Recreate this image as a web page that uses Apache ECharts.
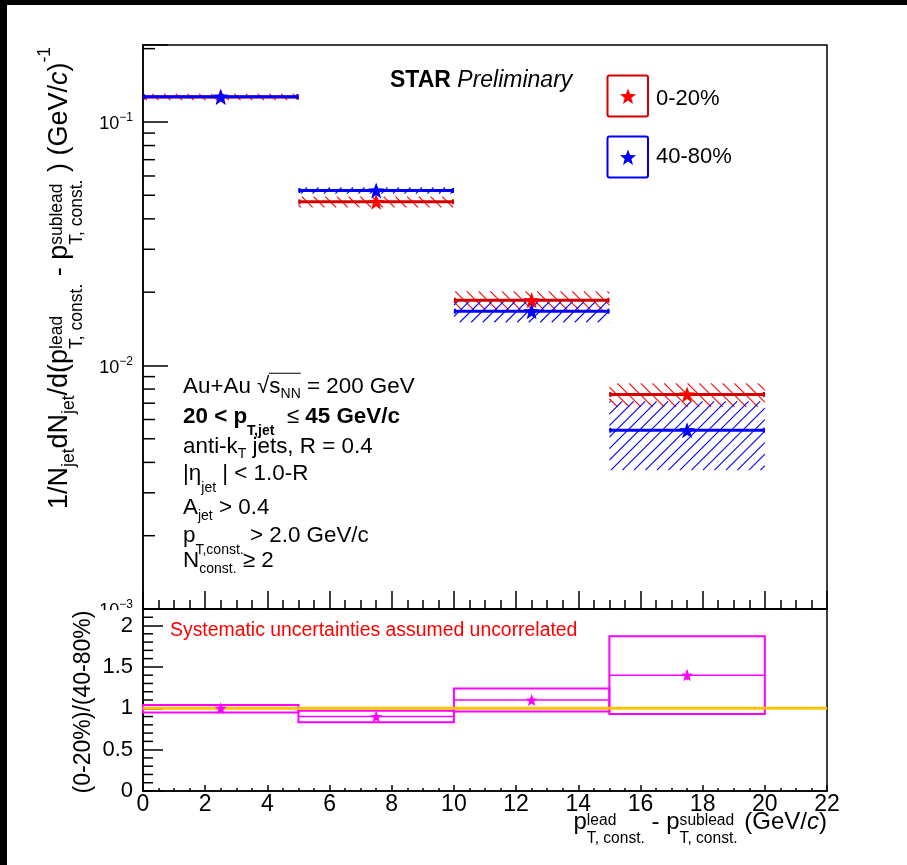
<!DOCTYPE html>
<html><head><meta charset="utf-8">
<script src="https://cdn.jsdelivr.net/npm/echarts@6/dist/echarts.min.js"></script>
<style>html,body{margin:0;padding:0;background:#fff}#c{width:907px;height:865px}</style>
</head><body><div id="c"></div>
<script>
// ---------------- data ----------------
const binLow = [0, 5, 10, 15];
const binHigh = [5, 10, 15, 20];
const binCenter = [2.5, 7.5, 12.5, 17.5];
// 0-20% centrality
const central = [0.1266, 0.0470, 0.01853, 0.0076];
const centralSys = [0.0037, 0.0024, 0.0016, 0.00084];
// 40-80% centrality
const peripheral = [0.1270, 0.0523, 0.0167, 0.00542];
const peripheralSys = [0.0012, 0.0015, 0.00165, 0.0017];
// ratio (0-20%)/(40-80%)
const ratio = [1.00, 0.90, 1.10, 1.40];
const ratioSysLow = [0.95, 0.83, 0.96, 0.93];
const ratioSysHigh = [1.04, 0.97, 1.24, 1.87];
const ratioStat = [0.04, 0.03, 0.04, 0.06];
const unityX = [0, 22];
const unityY = [1, 1];
// axis ticks
const logDecades = [0.001, 0.01, 0.1];
const logMinorMult = [2, 3, 4, 5, 6, 7, 8, 9];
const ratioTickLabels = ['0', '0.5', '1', '1.5', '2'];
const ratioMinorTicks = [0.1,0.2,0.3,0.4,0.6,0.7,0.8,0.9,1.1,1.2,1.3,1.4,1.6,1.7,1.8,1.9,2.1];

// ---------------- styling ----------------
const FF = '"Liberation Sans", Arial, Helvetica, sans-serif';
const C_RED = '#ff0000', C_REDLINE = '#d40000', C_BLUE = '#0000ff', C_MAG = '#ff00ff', C_ORANGE = '#ffc400';
const Y_MAX = 0.207, Y_MIN = 0.001;
const logMinorTicks = [];
logDecades.forEach(d => logMinorMult.forEach(m => { const v = d * m; if (v < Y_MAX) logMinorTicks.push(v); }));

function starPath() {
  let d = '';
  for (let i = 0; i < 10; i++) {
    const r = i % 2 === 0 ? 50 : 21;
    const a = -Math.PI / 2 + i * Math.PI / 5;
    d += (i ? 'L' : 'M') + (50 + r * Math.cos(a)).toFixed(2) + ' ' + (50 + r * Math.sin(a)).toFixed(2);
  }
  return d + 'Z';
}
const STAR = 'path://' + starPath();
function starPoints(cx, cy, R) {
  const pts = [];
  for (let i = 0; i < 10; i++) {
    const r = i % 2 === 0 ? R : R * 0.42;
    const a = -Math.PI / 2 + i * Math.PI / 5;
    pts.push([cx + r * Math.cos(a), cy + r * Math.sin(a)]);
  }
  return pts;
}

// ---------------- text helpers ----------------
const mctx = document.createElement('canvas').getContext('2d');
function measure(t, f) {
  mctx.font = (f.style || 'normal') + ' ' + (f.weight || 'normal') + ' ' + f.size + 'px ' + FF;
  return mctx.measureText(t).width;
}
function mathText(segs, main, sub) {
  let x = 0; const items = []; let ovStart = null; const lines = [];
  for (const s0 of segs) {
    const s = typeof s0 === 'string' ? { t: s0 } : s0;
    if (s.ovStart) { ovStart = x; continue; }
    if (s.ovEnd) { lines.push([ovStart, x]); continue; }
    if (s.stack) {
      const f = { size: sub, weight: s.weight };
      const w1 = measure(s.stack[0], f), w2 = measure(s.stack[1], f);
      items.push({ t: s.stack[0], x, dy: s.up !== undefined ? s.up : -0.21 * main, f });
      items.push({ t: s.stack[1], x, dy: s.dn !== undefined ? s.dn : 0.54 * main, f });
      x += Math.max(w1, w2);
    } else {
      const size = (s.sub || s.sup) ? sub : main;
      const f = { size, weight: s.weight, style: s.style };
      const dy = s.dy !== undefined ? s.dy : (s.sub ? 0.25 * main : s.sup ? -0.45 * main : 0);
      items.push({ t: s.t, x, dy, f });
      x += measure(s.t, f);
    }
  }
  return { width: x, items, lines };
}
function mathGraphic(segs, opt) {
  const m = mathText(segs, opt.main, opt.sub);
  const off = opt.align === 'right' ? -m.width : opt.align === 'center' ? -m.width / 2 : 0;
  const color = opt.color || '#000';
  const z = opt.z || 50;
  const children = m.items.map(it => ({
    type: 'text', z, x: it.x + off, y: it.dy - 0.35 * it.f.size,
    style: { text: it.t, fontSize: it.f.size, fontFamily: FF, fontWeight: it.f.weight || 'normal',
      fontStyle: it.f.style || 'normal', fill: color, align: 'left', verticalAlign: 'middle' }
  }));
  m.lines.forEach(l => children.push({ type: 'line', z,
    shape: { x1: l[0] + off - 0.5, y1: -opt.main * 0.97, x2: l[1] + off, y2: -opt.main * 0.97 },
    style: { stroke: color, lineWidth: 1.2 } }));
  return { type: 'group', x: opt.x, y: opt.y, rotation: opt.rotation || 0, z, silent: true, children };
}

// ---------------- render helpers ----------------
function hatchRender(dir, color, spacing) {
  return function (params, api) {
    const a = api.coord([api.value(0), api.value(3)]);
    const b = api.coord([api.value(1), api.value(2)]);
    const X0 = Math.min(a[0], b[0]), X1 = Math.max(a[0], b[0]);
    const Y0 = Math.min(a[1], b[1]), Y1 = Math.max(a[1], b[1]);
    const ch = [];
    if (dir > 0) { // '/'
      for (let c = Math.ceil((X0 + Y0) / spacing) * spacing; c <= X1 + Y1; c += spacing) {
        const xa = Math.max(X0, c - Y1), xb = Math.min(X1, c - Y0);
        if (xb > xa) ch.push({ type: 'line', shape: { x1: xa, y1: c - xa, x2: xb, y2: c - xb }, style: { stroke: color, lineWidth: 1.1 } });
      }
    } else { // '\'
      for (let c = Math.ceil((X0 - Y1) / spacing) * spacing; c <= X1 - Y0; c += spacing) {
        const xa = Math.max(X0, c + Y0), xb = Math.min(X1, c + Y1);
        if (xb > xa) ch.push({ type: 'line', shape: { x1: xa, y1: xa - c, x2: xb, y2: xb - c }, style: { stroke: color, lineWidth: 1.1 } });
      }
    }
    return { type: 'group', children: ch };
  };
}
function hlineRender(color, width) {
  return function (params, api) {
    const a = api.coord([api.value(0), api.value(2)]);
    const b = api.coord([api.value(1), api.value(2)]);
    return { type: 'group', children: [
      { type: 'line', shape: { x1: a[0], y1: a[1], x2: b[0], y2: b[1] }, style: { stroke: color, lineWidth: width } },
      { type: 'line', shape: { x1: a[0] + 1, y1: a[1] - 2.5, x2: a[0] + 1, y2: a[1] + 2.5 }, style: { stroke: color, lineWidth: 2 } },
      { type: 'line', shape: { x1: b[0] - 1, y1: b[1] - 2.5, x2: b[0] - 1, y2: b[1] + 2.5 }, style: { stroke: color, lineWidth: 2 } }
    ] };
  };
}
function minorTickRender(len) {
  return function (params, api) {
    const y = api.coord([api.value(0), api.value(1)])[1];
    const x = params.coordSys.x;
    return { type: 'line', shape: { x1: x, y1: y, x2: x + len, y2: y }, style: { stroke: '#000', lineWidth: 1.5 } };
  };
}

const hatchData = (vals, sys) => binLow.map((x0, i) => [x0, binHigh[i], vals[i] - sys[i], vals[i] + sys[i]]);
const lineData = vals => binLow.map((x0, i) => [x0, binHigh[i], vals[i]]);
const pointData = vals => binCenter.map((x, i) => [x, vals[i]]);

const axisLineStyle = { color: '#000', width: 1.5 };
const chart = echarts.init(document.getElementById('c'), null, { renderer: 'canvas' });

const option = {
  backgroundColor: '#fff',
  animation: false,
  grid: [
    { left: 143, right: 80, top: 45, height: 564, show: true, borderColor: '#000', borderWidth: 1.5, backgroundColor: 'transparent', outerBoundsMode: 'none' },
    { left: 143, right: 80, top: 609, height: 182, show: true, borderColor: '#000', borderWidth: 1.5, backgroundColor: 'transparent', outerBoundsMode: 'none' }
  ],
  xAxis: [
    { type: 'value', gridIndex: 0, min: 0, max: 22, interval: 2,
      axisLine: { show: true, lineStyle: axisLineStyle },
      axisTick: { show: true, inside: true, length: 18, lineStyle: axisLineStyle },
      minorTick: { show: true, splitNumber: 4, length: 9, lineStyle: axisLineStyle },
      axisLabel: { show: false }, splitLine: { show: false } },
    { type: 'value', gridIndex: 1, min: 0, max: 22, interval: 2,
      axisLine: { show: true, lineStyle: axisLineStyle },
      axisTick: { show: true, inside: true, length: 6, lineStyle: axisLineStyle },
      minorTick: { show: true, splitNumber: 4, length: 3, lineStyle: axisLineStyle },
      axisLabel: { show: true, margin: 2, fontSize: 23, fontFamily: FF, color: '#000' },
      splitLine: { show: false } }
  ],
  yAxis: [
    { type: 'log', gridIndex: 0, min: Y_MIN, max: Y_MAX, logBase: 10,
      axisLine: { show: true, lineStyle: axisLineStyle },
      axisTick: { show: true, inside: true, length: 25, lineStyle: axisLineStyle },
      axisLabel: { show: true, margin: 10,
        formatter: function (v) {
          const l = Math.log10(v), e = Math.round(l);
          if (Math.abs(l - e) > 1e-6) return '';
          return '{b|10}{s|' + (e < 0 ? '\u2212' : '') + Math.abs(e) + '}';
        },
        rich: { b: { fontSize: 18, fontFamily: FF, color: '#000', padding: [5, 0, 0, 0] },
                s: { fontSize: 12, fontFamily: FF, color: '#000', padding: [0, 0, 8, 0] } } },
      splitLine: { show: false } },
    { type: 'value', gridIndex: 1, min: 0, max: 2.2, interval: 0.5,
      axisLine: { show: true, lineStyle: axisLineStyle },
      axisTick: { show: true, inside: true, length: 20, lineStyle: axisLineStyle },
      axisLabel: { show: true, margin: 10, fontSize: 22, fontFamily: FF, color: '#000', showMaxLabel: false,
        formatter: function (v) { const i = Math.round(v / 0.5); return Math.abs(v - i * 0.5) < 1e-6 ? ratioTickLabels[i] : ''; } },
      splitLine: { show: false } }
  ],
  series: [
    // log minor ticks (top panel)
    { type: 'custom', xAxisIndex: 0, yAxisIndex: 0, silent: true, z: 5,
      data: logMinorTicks.map(v => [0, v]), encode: { x: 0, y: 1 }, renderItem: minorTickRender(12) },
    // ratio minor ticks (bottom panel)
    { type: 'custom', xAxisIndex: 1, yAxisIndex: 1, silent: true, z: 5,
      data: ratioMinorTicks.map(v => [0, v]), encode: { x: 0, y: 1 }, renderItem: minorTickRender(10) },
    // systematic hatch bands
    { name: '0-20% sys', type: 'custom', xAxisIndex: 0, yAxisIndex: 0, silent: true, z: 2,
      data: hatchData(central, centralSys), encode: { x: [0, 1], y: [2, 3] }, renderItem: hatchRender(-1, C_RED, 11.7) },
    { name: '40-80% sys', type: 'custom', xAxisIndex: 0, yAxisIndex: 0, silent: true, z: 2,
      data: hatchData(peripheral, peripheralSys), encode: { x: [0, 1], y: [2, 3] }, renderItem: hatchRender(1, C_BLUE, 11.5) },
    // bin-width lines and markers
    { name: '0-20% line', type: 'custom', xAxisIndex: 0, yAxisIndex: 0, silent: true, z: 3,
      data: lineData(central), encode: { x: [0, 1], y: 2 }, renderItem: hlineRender(C_REDLINE, 3) },
    { name: '0-20%', type: 'scatter', xAxisIndex: 0, yAxisIndex: 0, z: 4, symbol: STAR, symbolSize: 16,
      itemStyle: { color: C_RED, opacity: 1 }, data: pointData(central) },
    { name: '40-80% line', type: 'custom', xAxisIndex: 0, yAxisIndex: 0, silent: true, z: 5,
      data: lineData(peripheral), encode: { x: [0, 1], y: 2 }, renderItem: hlineRender(C_BLUE, 3) },
    { name: '40-80%', type: 'scatter', xAxisIndex: 0, yAxisIndex: 0, z: 6, symbol: STAR, symbolSize: 16,
      itemStyle: { color: C_BLUE, opacity: 1 }, data: pointData(peripheral) },
    // ratio boxes
    { name: 'ratio sys', type: 'custom', xAxisIndex: 1, yAxisIndex: 1, silent: true, z: 2,
      data: binLow.map((x0, i) => [x0, binHigh[i], ratioSysLow[i], ratioSysHigh[i], ratio[i]]),
      encode: { x: [0, 1], y: [2, 3] },
      renderItem: function (params, api) {
        const a = api.coord([api.value(0), api.value(3)]);
        const b = api.coord([api.value(1), api.value(2)]);
        const m = api.coord([api.value(0), api.value(4)]);
        return { type: 'group', children: [
          { type: 'rect', shape: { x: a[0], y: a[1], width: b[0] - a[0], height: b[1] - a[1] }, style: { fill: 'none', stroke: C_MAG, lineWidth: 2 } },
          { type: 'line', shape: { x1: a[0], y1: m[1], x2: b[0], y2: m[1] }, style: { stroke: C_MAG, lineWidth: 1.5 } }
        ] };
      } },
    // unity reference line
    { name: 'unity', type: 'line', xAxisIndex: 1, yAxisIndex: 1, z: 3, symbol: 'none', silent: true,
      lineStyle: { color: C_ORANGE, width: 3 }, data: unityX.map((x, i) => [x, unityY[i]]) },
    // ratio stat errors
    { name: 'ratio stat', type: 'custom', xAxisIndex: 1, yAxisIndex: 1, silent: true, z: 4,
      data: binCenter.map((x, i) => [x, ratio[i] - ratioStat[i], ratio[i] + ratioStat[i]]),
      encode: { x: 0, y: [1, 2] },
      renderItem: function (params, api) {
        const a = api.coord([api.value(0), api.value(1)]);
        const b = api.coord([api.value(0), api.value(2)]);
        return { type: 'line', shape: { x1: a[0], y1: a[1], x2: b[0], y2: b[1] }, style: { stroke: C_MAG, lineWidth: 1.5 } };
      } },
    { name: 'ratio', type: 'scatter', xAxisIndex: 1, yAxisIndex: 1, z: 5, symbol: STAR, symbolSize: 12,
      itemStyle: { color: C_MAG, opacity: 1 }, data: pointData(ratio) }
  ],
  graphic: []
};

// --------- texts ---------
const G = [];
// Y title (top panel)
G.push(mathGraphic([
  '1/N', { t: 'jet', sub: true, dy: 6 }, 'dN', { t: 'jet', sub: true, dy: 6 }, '/d(p',
  { stack: ['lead', 'T, const.'] }, ' - p', { stack: ['sublead', 'T, const.'] }, ' ) (GeV/',
  { t: 'c', style: 'italic' }, ')', { t: '-1', sup: true, dy: -18 }
], { x: 69, y: 47, align: 'right', rotation: Math.PI / 2, main: 27, sub: 17.5 }));
// Y title (ratio panel)
G.push(mathGraphic(['(0-20%)/(40-80%)'], { x: 92, y: 702, align: 'center', rotation: Math.PI / 2, main: 23, sub: 15, z: 101 }));
// X title
G.push(mathGraphic([
  'p', { stack: ['lead', 'T, const.'], up: -5, dn: 13 }, ' - p', { stack: ['sublead', 'T, const.'], up: -5, dn: 13 },
  ' (GeV/', { t: 'c', style: 'italic' }, ')'
], { x: 827, y: 831, align: 'right', main: 24, sub: 15.6 }));
// STAR Preliminary
G.push(mathGraphic([{ t: 'STAR', weight: 'bold' }, ' ', { t: 'Preliminary', style: 'italic' }], { x: 390, y: 89, main: 23, sub: 14 }));
// legend
G.push({ type: 'rect', z: 50, silent: true, shape: { x: 607.5, y: 75.5, width: 40.5, height: 41, r: 2 }, style: { fill: 'none', stroke: '#d40000', lineWidth: 2 } });
G.push({ type: 'rect', z: 50, silent: true, shape: { x: 607.5, y: 136.5, width: 40.5, height: 41, r: 2 }, style: { fill: 'none', stroke: C_BLUE, lineWidth: 2 } });
G.push({ type: 'polygon', z: 51, silent: true, shape: { points: starPoints(628, 97, 8.5) }, style: { fill: C_RED } });
G.push({ type: 'polygon', z: 51, silent: true, shape: { points: starPoints(628, 158, 8.5) }, style: { fill: C_BLUE } });
G.push(mathGraphic(['0-20%'], { x: 656, y: 107, main: 22, sub: 14 }));
G.push(mathGraphic(['40-80%'], { x: 656, y: 165, main: 22, sub: 14 }));
// info block
const infoX = 183, infoSize = 22.4;
G.push(mathGraphic(['Au+Au ', '\u221A', { ovStart: true }, 's', { t: 'NN', sub: true, dy: 4 }, { ovEnd: true }, ' = 200 GeV'], { x: infoX, y: 395, main: infoSize, sub: 14 }));
G.push(mathGraphic([{ t: '20 < p', weight: 'bold' }, { t: 'T,jet', sub: true, weight: 'bold', dy: 11 }, '  \u2264 ', { t: '45 GeV/c', weight: 'bold' }], { x: infoX, y: 425, main: infoSize, sub: 14 }));
G.push(mathGraphic(['anti-k', { t: 'T', sub: true, dy: 4 }, ' jets, R = 0.4'], { x: infoX, y: 455, main: infoSize, sub: 14 }));
G.push(mathGraphic(['|\u03B7', { t: 'jet', sub: true, dy: 11 }, ' | < 1.0-R'], { x: infoX, y: 482, main: infoSize, sub: 14 }));
G.push(mathGraphic(['A', { t: 'jet', sub: true, dy: 5 }, ' > 0.4'], { x: infoX, y: 516, main: infoSize, sub: 14 }));
G.push(mathGraphic(['p', { t: 'T,const.', sub: true, dy: 11 }, ' > 2.0 GeV/c'], { x: infoX, y: 544, main: infoSize, sub: 14 }));
G.push(mathGraphic(['N', { t: 'const.', sub: true, dy: 5 }, ' \u2265 2'], { x: infoX, y: 569, main: infoSize, sub: 14 }));
// ratio panel note
G.push(mathGraphic(['Systematic uncertainties assumed uncorrelated'], { x: 170, y: 637, main: 19.4, sub: 12, color: '#ff0000' }));
// cover of the lower part of the 10^-3 label (lower pad drawn over upper pad)
G.push({ type: 'rect', z: 90, silent: true, shape: { x: 99, y: 610, width: 42, height: 7 }, style: { fill: '#fff' } });
// black frame remnants at top/left of the picture
G.push({ type: 'rect', z: 200, silent: true, shape: { x: 0, y: 0, width: 907, height: 5 }, style: { fill: '#000' } });
G.push({ type: 'rect', z: 200, silent: true, shape: { x: 0, y: 0, width: 7, height: 865 }, style: { fill: '#000' } });
option.graphic = G;

chart.setOption(option);
</script></body></html>
